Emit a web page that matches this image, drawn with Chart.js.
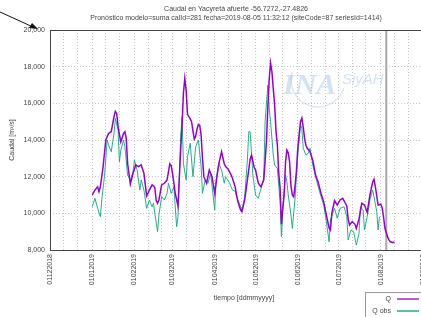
<!DOCTYPE html>
<html>
<head>
<meta charset="utf-8">
<script src="https://cdn.jsdelivr.net/npm/chart.js@4.4.1/dist/chart.umd.min.js"></script>
<style>
  html, body { margin: 0; padding: 0; background: #fff; overflow: hidden; }
  #wrap { position: relative; width: 450px; height: 317px; }
</style>
</head>
<body>
<div id="wrap"><canvas id="myChart" width="450" height="317"></canvas></div>
<script>
// days counted from 2018-12-01
const startDate = Date.UTC(2018, 11, 1);
const forecastDay = 247; // 2019-08-05
const xMax = 285;

const qDays = [31,33,35,36,37,39,41,43,45,47,48,49,50,52,54,55,56,57,59,61,63,65,67,69,71,72,73,75,76,77,78,79,80,82,84,86,88,89,90,92,94,96,97,98,99,100,101,103,104,105,106,107,108,109,110,111,112,113,115,117,119,121,123,124,126,128,129,131,133,134,136,137,138,140,141,143,145,147,148,150,151,153,155,157,159,160,161,162,163,164,165,166,167,168,169,170,171,172,173,174,175,176,177,178,179,180,181,182,183,184,185,186,187,188,189,191,193,195,197,199,201,203,205,206,207,209,211,213,215,217,218,219,220,222,224,225,227,229,231,233,235,237,238,239,241,243,244,245,246,248,249,250,252,253];
const qValues = [11000,11270,11450,11180,11450,12550,14000,14360,14450,15270,15560,15450,14730,13900,14360,14450,14090,12730,11600,12180,12640,12550,12640,12180,10950,11100,11270,11550,11500,11400,10700,10550,10730,11550,11640,11820,12700,12600,12180,11090,10400,13500,14800,16550,17360,16700,15400,15150,15000,14500,14050,14200,14600,14850,14800,14270,13000,12000,11640,12360,12000,11090,12200,12700,13360,12700,12550,12400,12100,11910,11450,11000,10640,10180,10090,10730,11820,12950,13180,12500,12360,11640,11450,11820,13900,15800,17300,18200,17730,16800,15910,14500,13730,12200,11400,9400,10300,11000,12800,13450,13300,12800,11500,11000,10900,11500,12300,13550,14300,15000,15200,14700,14090,13700,13550,13360,12900,12100,11700,11100,10640,9900,9200,9090,10000,10700,10450,10730,10820,10550,10400,9700,9360,9550,9400,9180,9700,10550,10450,10050,11000,11700,11860,11450,10450,10500,10300,9800,9200,8700,8550,8450,8400,8450];

const obsDays = [31,33,35,37,38,40,42,43,45,47,48,50,51,52,54,55,57,59,61,62,64,66,67,69,71,73,75,76,77,79,80,82,84,86,87,89,91,93,94,96,97,98,100,101,103,105,107,109,111,112,114,116,118,121,122,124,126,128,129,132,134,136,138,141,143,145,146,147,148,149,151,153,155,157,158,160,161,162,164,165,167,169,170,171,173,174,175,177,178,180,182,184,185,186,188,190,191,193,196,198,201,203,205,206,209,211,213,216,218,219,221,223,225,227,228,230,231,233,235,237,238,240,241,242];
const obsValues = [10360,10820,10270,9820,10730,12000,14000,13730,13360,14360,15180,14550,12820,13450,14000,13640,12090,11820,12270,12910,12360,11270,11820,11270,10270,10730,10360,10550,10000,9000,9910,10910,10730,11090,11640,11090,11450,9270,9820,14180,15270,12730,11820,13090,13820,12000,13640,14000,12550,11090,11820,11640,12180,10180,11820,12730,12360,11640,12000,11640,11270,11200,10730,10180,10910,12910,14450,14450,13270,12090,11000,10820,11360,11910,15000,17000,15730,15000,13180,12640,12450,10640,8730,10270,12090,11730,11000,9910,9180,10820,13180,14820,14640,13550,13180,13300,13550,12640,11730,11180,10450,9550,8450,9640,10270,9730,10270,10360,9820,8550,9090,9000,8270,8910,10360,10180,9090,9820,10730,11270,10910,10090,9090,9820];

const yTicks = [8000, 10000, 12000, 14000, 16000, 18000, 20000];

const titleLines = [
  "Caudal en Yacyretá afuerte -56.7272,-27.4826",
  "Pronóstico modelo=suma calId=281 fecha=2019-08-05 11:32:12 (siteCode=87 seriesId=1414)"
];

const FONT = "'Liberation Sans', Arial, sans-serif";
const TEXT = "#444";

function dayToDate(d) {
  return new Date(startDate + d * 86400000);
}
function pad(n) {
  return n < 10 ? "0" + n : "" + n;
}

const extras = {
  id: "extras",
  beforeDatasetsDraw(chart) {
    const ctx = chart.ctx;
    const a = chart.chartArea;
    const x = chart.scales.x.getPixelForValue(forecastDay);
    ctx.save();
    ctx.strokeStyle = "#a8a8a8";
    ctx.lineWidth = 2;
    ctx.beginPath();
    ctx.moveTo(x, a.top);
    ctx.lineTo(x, a.bottom);
    ctx.stroke();
    // watermark
    ctx.fillStyle = "rgba(150,182,215,0.4)";
    ctx.font = "italic bold 30px 'Liberation Serif', serif";
    ctx.fillText("INA", 283, 94);
    ctx.font = "italic 15px " + FONT;
    ctx.fillText("SiyAH", 342, 84);
    ctx.strokeStyle = "rgba(150,182,215,0.3)";
    ctx.lineWidth = 1.5;
    ctx.beginPath();
    ctx.arc(318, 80, 27, 0.3, Math.PI * 1.1);
    ctx.stroke();
    ctx.restore();
  },
  afterDraw(chart) {
    const ctx = chart.ctx;
    const a = chart.chartArea;
    ctx.save();
    ctx.strokeStyle = "#444";
    ctx.lineWidth = 1;
    ctx.strokeRect(a.left + 0.5, a.top + 0.5, a.right - a.left, a.bottom - a.top);

    ctx.fillStyle = TEXT;
    ctx.font = "7px " + FONT;
    ctx.textAlign = "center";
    ctx.textBaseline = "middle";
    ctx.fillText(titleLines[0], 236, 9);
    ctx.fillText(titleLines[1], 236, 18);

    // legend box, gnuplot style
    ctx.strokeStyle = "#999";
    ctx.strokeRect(365.5, 292.5, 70, 30);
    ctx.textAlign = "right";
    ctx.fillText("Q", 391, 299);
    ctx.fillText("Q obs", 391, 311);
    ctx.lineWidth = 1.3;
    ctx.strokeStyle = "#9400d3";
    ctx.beginPath(); ctx.moveTo(397, 299); ctx.lineTo(419, 299); ctx.stroke();
    ctx.strokeStyle = "#009e73";
    ctx.beginPath(); ctx.moveTo(397, 311); ctx.lineTo(419, 311); ctx.stroke();

    // logo arrow in the corner
    ctx.strokeStyle = "#111";
    ctx.lineWidth = 1;
    ctx.beginPath(); ctx.moveTo(0, 12); ctx.lineTo(33, 27); ctx.stroke();
    ctx.fillStyle = "#111";
    ctx.beginPath(); ctx.moveTo(38, 29); ctx.lineTo(29, 28); ctx.lineTo(32, 23); ctx.closePath(); ctx.fill();
    ctx.restore();
  }
};

const ctx = document.getElementById("myChart");

var chart = new Chart(ctx, {
  type: "line",
  data: {
    datasets: [
      {
        label: "Q",
        data: qDays.map((d, i) => ({ x: d, y: qValues[i] })),
        borderColor: "#9400d3",
        borderWidth: 1.5,
        pointRadius: 0,
        tension: 0,
      },
      {
        label: "Q obs",
        data: obsDays.map((d, i) => ({ x: d, y: obsValues[i] })),
        borderColor: "#10a67e",
        borderWidth: 0.9,
        pointRadius: 0,
        tension: 0,
      },
    ],
  },
  options: {
    responsive: false,
    animation: false,
    devicePixelRatio: 1,
    layout: { padding: { top: 30, left: 8, right: 12, bottom: 0 } },
    plugins: {
      legend: { display: false },
      tooltip: { enabled: false },
    },
    scales: {
      x: {
        type: "linear",
        min: 0,
        max: xMax,
        afterBuildTicks: (scale) => {
          const ticks = [];
          for (let d = 0; d <= xMax; d++) {
            const day = dayToDate(d).getUTCDate();
            if (day === 1 || day === 11 || day === 21) ticks.push({ value: d });
          }
          scale.ticks = ticks;
        },
        afterFit: (scale) => { scale.height = 67; },
        grid: { color: "#c8c8c8", drawTicks: false },
        border: { display: false, dash: [1, 2] },
        ticks: {
          autoSkip: false,
          maxRotation: 90,
          minRotation: 90,
          padding: 4,
          color: TEXT,
          font: { family: FONT, size: 7 },
          callback: (value) => {
            const dt = dayToDate(value);
            if (dt.getUTCDate() !== 1) return "";
            return "01" + pad(dt.getUTCMonth() + 1) + dt.getUTCFullYear();
          },
        },
        title: {
          display: true,
          text: "tiempo [ddmmyyyy]",
          color: TEXT,
          font: { family: FONT, size: 7 },
          padding: { top: 15, bottom: 15 },
        },
      },
      y: {
        min: 8000,
        max: 20000,
        afterBuildTicks: (scale) => {
          scale.ticks = yTicks.map((v) => ({ value: v }));
        },
        afterFit: (scale) => { scale.width = 42; },
        grid: { color: "#c8c8c8", drawTicks: false },
        border: { display: false, dash: [1, 2] },
        ticks: {
          padding: 5,
          color: TEXT,
          font: { family: FONT, size: 7 },
        },
        title: {
          display: true,
          text: "Caudal [m³/s]",
          color: TEXT,
          font: { family: FONT, size: 7 },
          padding: { top: 0, bottom: 0 },
        },
      },
    },
  },
  plugins: [extras],
});
</script>
</body>
</html>
